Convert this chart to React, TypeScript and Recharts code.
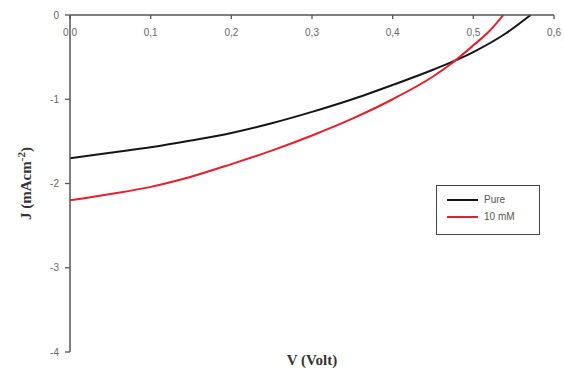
import React from "react";
import { LineChart, Line, XAxis, YAxis } from "recharts";

const voltsPure = [0, 0.05, 0.1, 0.15, 0.2, 0.25, 0.3, 0.35, 0.4, 0.45, 0.5, 0.54, 0.571];
const jPure = [-1.7, -1.635, -1.57, -1.49, -1.4, -1.285, -1.15, -1.0, -0.83, -0.65, -0.44, -0.22, 0];
const volts10mM = [0, 0.05, 0.1, 0.15, 0.2, 0.25, 0.3, 0.35, 0.4, 0.45, 0.475, 0.5, 0.52, 0.537];
const j10mM = [-2.2, -2.125, -2.04, -1.92, -1.77, -1.61, -1.43, -1.23, -1.0, -0.73, -0.56, -0.36, -0.19, 0];
const xTicks = [0, 0.1, 0.2, 0.3, 0.4, 0.5, 0.6];
const yTicks = [-4, -3, -2, -1, 0];
const seriesNames = ["Pure", "10 mM"];
const seriesColors = ["#151515", "#e3202c"];

const dataPure = voltsPure.map((v, i) => ({ v, j: jPure[i] }));
const data10 = volts10mM.map((v, i) => ({ v, j: j10mM[i] }));

const XTick = (props: any) => {
  const { x, y, payload } = props;
  return (
    <g>
      <line x1={x} y1={y} x2={x} y2={y + 4} stroke="#555" strokeWidth={1.3} />
      <text x={x} y={y + 21} textAnchor="middle" fontSize={10} fill="#666" fontFamily="Arial, Liberation Sans, sans-serif">
        {payload.value.toFixed(1).replace(".", ",")}
      </text>
    </g>
  );
};

const YLabel = (props: any) => {
  const vb = props.viewBox || {};
  const cy = vb.y + vb.height / 2;
  const cx = 31;
  return (
    <text
      transform={`rotate(-90, ${cx}, ${cy})`}
      x={cx}
      y={cy}
      textAnchor="middle"
      fontFamily="Liberation Serif, Times New Roman, serif"
      fontWeight="bold"
      fontSize={15}
      fill="#333"
    >
      J (mAcm
      <tspan dy={-6} fontSize={11}>-2</tspan>
      <tspan dy={6}>)</tspan>
    </text>
  );
};

const LegendBox = () => (
  <div
    style={{
      position: "absolute",
      left: 436,
      top: 185,
      width: 102,
      height: 48,
      border: "1.5px solid #444",
      background: "#fff",
      fontFamily: "Arial, Liberation Sans, sans-serif",
      fontSize: 10,
      color: "#555",
    }}
  >
    {seriesNames.map((n, i) => (
      <div key={n} style={{ position: "absolute", left: 10, top: 8 + i * 17, display: "flex", alignItems: "center" }}>
        <div style={{ width: 31, height: 2, background: seriesColors[i], marginRight: 6 }} />
        <span>{n}</span>
      </div>
    ))}
  </div>
);

export default function App() {
  return (
    <div style={{ position: "absolute", left: 0, top: 0, width: 564, height: 369, background: "#fff" }}>
      <LineChart width={564} height={369} margin={{ top: 13, right: 10, bottom: 17, left: 0 }}>
        <XAxis
          type="number"
          dataKey="v"
          orientation="top"
          domain={[0, 0.6]}
          ticks={xTicks}
          height={2}
          tickSize={0}
          tickMargin={0}
          tickLine={false}
          axisLine={{ stroke: "#555", strokeWidth: 1.5 }}
          tick={<XTick />}
          interval={0}
          allowDataOverflow
        />
        <YAxis
          type="number"
          domain={[-4, 0]}
          ticks={yTicks}
          width={70}
          tickSize={5}
          tickMargin={6}
          tickLine={{ stroke: "#555", strokeWidth: 1.3 }}
          axisLine={{ stroke: "#555", strokeWidth: 1.5 }}
          tick={{ fontSize: 10, fill: "#666", fontFamily: "Arial, Liberation Sans, sans-serif" }}
          label={<YLabel />}
        />
        <Line data={dataPure} dataKey="j" type="monotone" stroke={seriesColors[0]} strokeWidth={2} dot={false} isAnimationActive={false} name={seriesNames[0]} />
        <Line data={data10} dataKey="j" type="monotone" stroke={seriesColors[1]} strokeWidth={2} dot={false} isAnimationActive={false} name={seriesNames[1]} />
      </LineChart>
      <LegendBox />
      <div
        style={{
          position: "absolute",
          left: 262,
          top: 352,
          width: 100,
          textAlign: "center",
          fontFamily: "Liberation Serif, Times New Roman, serif",
          fontWeight: "bold",
          fontSize: 15,
          lineHeight: "17px",
          color: "#333",
        }}
      >
        V (Volt)
      </div>
    </div>
  );
}
